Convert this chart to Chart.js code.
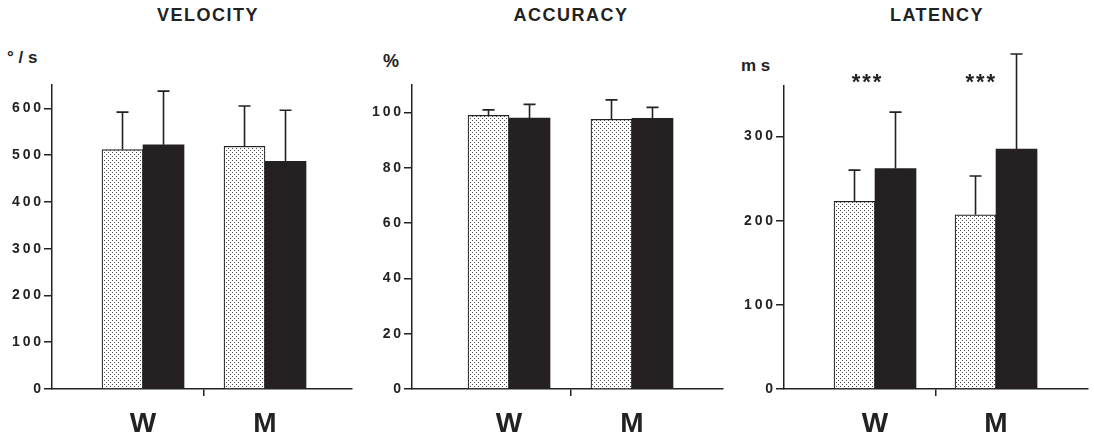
<!DOCTYPE html>
<html>
<head>
<meta charset="utf-8">
<script src="https://cdn.jsdelivr.net/npm/chart.js@4/dist/chart.umd.min.js"></script>
<style>
  body { margin: 0; background: #fff; width: 1094px; height: 438px; position: relative; overflow: hidden;
         font-family: "Liberation Sans", Arial, sans-serif; color: #222; }
  canvas { position: absolute; top: 0; }
  .ttl { position: absolute; top: 5px; font-weight: bold; font-size: 18px; letter-spacing: 1.5px;
         transform: translateX(-50%); white-space: nowrap; }
  .unit { position: absolute; font-weight: bold; white-space: nowrap; }
</style>
</head>
<body>
<div class="ttl" style="left:208px">VELOCITY</div>
<div class="ttl" style="left:571px">ACCURACY</div>
<div class="ttl" style="left:937px">LATENCY</div>
<div class="unit" style="left:7px;top:48px;font-size:17px">° / s</div>
<div class="unit" style="left:383px;top:51px;font-size:18px">%</div>
<div class="unit" style="left:741px;top:56px;font-size:17px">m s</div>

<canvas id="vel" width="360" height="438" style="left:0px"></canvas>
<canvas id="acc" width="370" height="438" style="left:360px"></canvas>
<canvas id="lat" width="364" height="438" style="left:730px"></canvas>

<script>
// groups on the x axis
const groups = ['W', 'M'];

// velocity (deg/s): dotted bars, black bars, upper SD
const velLight = [512, 519];
const velDark = [522, 487];
const velLightSd = [80, 86];
const velDarkSd = [115, 109];

// accuracy (%)
const accLight = [99.0, 97.6];
const accDark = [98.0, 97.9];
const accLightSd = [2, 7];
const accDarkSd = [5, 4];

// latency (ms)
const latLight = [223, 207];
const latDark = [262, 285];
const latLightSd = [37, 46];
const latDarkSd = [67, 113];
const latStars = ['***', '***'];

const INK = '#222';
const FONT = '"Liberation Sans", Arial, sans-serif';

// dotted fill for the light bars
const pc = document.createElement('canvas');
pc.width = 4; pc.height = 4;
const pg = pc.getContext('2d');
pg.fillStyle = '#fff'; pg.fillRect(0, 0, 4, 4);
pg.fillStyle = '#4a4a4a';
pg.fillRect(0, 0, 1, 1);
pg.fillRect(2, 2, 1, 1);
const dots = pg.createPattern(pc, 'repeat');

const errBars = {
  id: 'errBars',
  afterDatasetsDraw(chart) {
    const ctx = chart.ctx, y = chart.scales.y;
    chart.data.datasets.forEach((ds, di) => {
      chart.getDatasetMeta(di).data.forEach((bar, i) => {
        const top = y.getPixelForValue(ds.data[i].y + ds.sd[i]);
        ctx.save();
        ctx.strokeStyle = INK;
        ctx.lineWidth = 1.6;
        ctx.beginPath();
        ctx.moveTo(bar.x, bar.y);
        ctx.lineTo(bar.x, top);
        ctx.moveTo(bar.x - 6, top);
        ctx.lineTo(bar.x + 6, top);
        ctx.stroke();
        ctx.restore();
      });
    });
    // significance stars
    const st = chart.options.plugins.stars;
    if (st) {
      const x = chart.scales.x;
      ctx.save();
      ctx.fillStyle = INK;
      ctx.font = 'bold 22px ' + FONT;
      ctx.textAlign = 'center';
      ctx.textBaseline = 'alphabetic';
      st.text.forEach((t, i) => {
        ctx.fillText(t.split('').join('\u200A'), x.getPixelForValue(st.at[i]), y.getPixelForValue(st.level) + 12);
      });
      ctx.restore();
    }
  }
};

function panel(id, p) {
  return new Chart(document.getElementById(id), {
    type: 'bar',
    data: {
      datasets: [
        { data: p.light.map((v, i) => ({ x: i + 1, y: v })), sd: p.lightSd,
          backgroundColor: dots, borderColor: INK, borderWidth: 1.2, borderSkipped: 'bottom',
          barThickness: 41, clip: false },
        { data: p.dark.map((v, i) => ({ x: i + 1, y: v })), sd: p.darkSd,
          backgroundColor: '#252122', borderWidth: 0, barThickness: 41, clip: false }
      ]
    },
    options: {
      responsive: false,
      animation: false,
      layout: { padding: { top: p.top, right: p.right, left: 0, bottom: 0 } },
      plugins: { legend: { display: false }, tooltip: { enabled: false }, stars: p.stars },
      scales: {
        x: {
          type: 'linear', min: p.xmin, max: p.xmax, offset: false,
          afterBuildTicks: s => { s.ticks = [1, 1.5, 2].map(v => ({ value: v })); },
          afterFit: s => { s.height = 49; },
          grid: { offset: false, drawOnChartArea: false, tickLength: 7, lineWidth: 1.5,
                  color: c => (c.tick && c.tick.value === 1.5) ? INK : 'rgba(0,0,0,0)' },
          border: { color: INK, width: 1.5 },
          ticks: { padding: 11, color: INK, autoSkip: false, maxRotation: 0,
                   font: { family: FONT, size: 28, weight: 'bold' },
                   callback: v => groups[v - 1] || '' }
        },
        y: {
          min: 0, max: p.max,
          afterFit: s => { s.width = p.yw; },
          grid: { drawOnChartArea: false, tickLength: 8, lineWidth: 1.5, color: INK },
          border: { color: INK, width: 1.5 },
          ticks: { stepSize: p.step, includeBounds: false, padding: 3, color: INK,
                   font: { family: FONT, size: 14, weight: 'bold' },
                   callback: v => String(v).split('').join('\u2009') }
        }
      }
    },
    plugins: [errBars]
  });
}

panel('vel', { light: velLight, dark: velDark, lightSd: velLightSd, darkSd: velDarkSd,
  max: 650, step: 100, top: 85, right: 8, yw: 52, xmin: 0.254, xmax: 2.713 });
panel('acc', { light: accLight, dark: accDark, lightSd: accLightSd, darkSd: accDarkSd,
  max: 110, step: 20, top: 85, right: 7, yw: 52, xmin: 0.211, xmax: 2.740 });
panel('lat', { light: latLight, dark: latDark, lightSd: latLightSd, darkSd: latDarkSd,
  max: 360, step: 100, top: 86, right: 6, yw: 54, xmin: 0.248, xmax: 2.760,
  stars: { text: latStars, at: [0.93, 1.87], level: 371 } });
</script>
</body>
</html>
